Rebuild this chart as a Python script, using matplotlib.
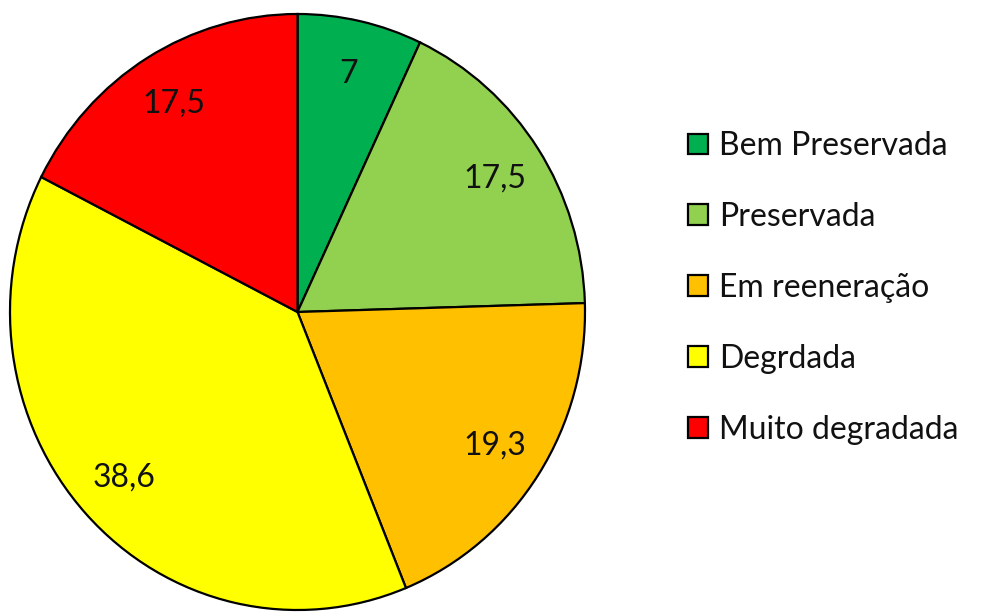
import matplotlib.pyplot as plt

# Data
categories = ['Bem Preservada', 'Preservada', 'Em reeneração', 'Degrdada', 'Muito degradada']
values = [7, 17.5, 19.3, 38.6, 17.5]
value_labels = ['7', '17,5', '19,3', '38,6', '17,5']
colors = ['#00B050', '#92D050', '#FFC000', '#FFFF00', '#FF0000']

plt.rcParams['font.family'] = ['Lato', 'DejaVu Sans']

W, H = 982, 612
fig = plt.figure(figsize=(W / 100, H / 100), dpi=100)

# Pie axes placed in pixel coordinates (slightly taller than wide, like the original)
left, right, top, bottom = 10, 585, 14, 610
ax = fig.add_axes([left / W, 1 - bottom / H, (right - left) / W, (bottom - top) / H])

wedges, texts = ax.pie(values, labels=value_labels, colors=colors,
                       startangle=90, counterclock=False, labeldistance=0.82,
                       wedgeprops=dict(edgecolor='black', linewidth=1.6),
                       textprops=dict(fontsize=23, color='#111111'))
for t in texts:
    t.set_ha('center')
    t.set_va('center')

ax.set_aspect('auto')
ax.set_xlim(-1.0, 1.0)
ax.set_ylim(-1.0, 1.0)
ax.axis('off')

fig.legend(wedges, categories, loc='center left', bbox_to_anchor=(688 / W, 1 - 288 / H),
           frameon=False, fontsize=23, handlelength=0.63, handleheight=0.63,
           labelspacing=1.28, handletextpad=0.35, borderpad=0, borderaxespad=0,
           labelcolor='#111111')

fig.savefig('out.png', dpi=100)
